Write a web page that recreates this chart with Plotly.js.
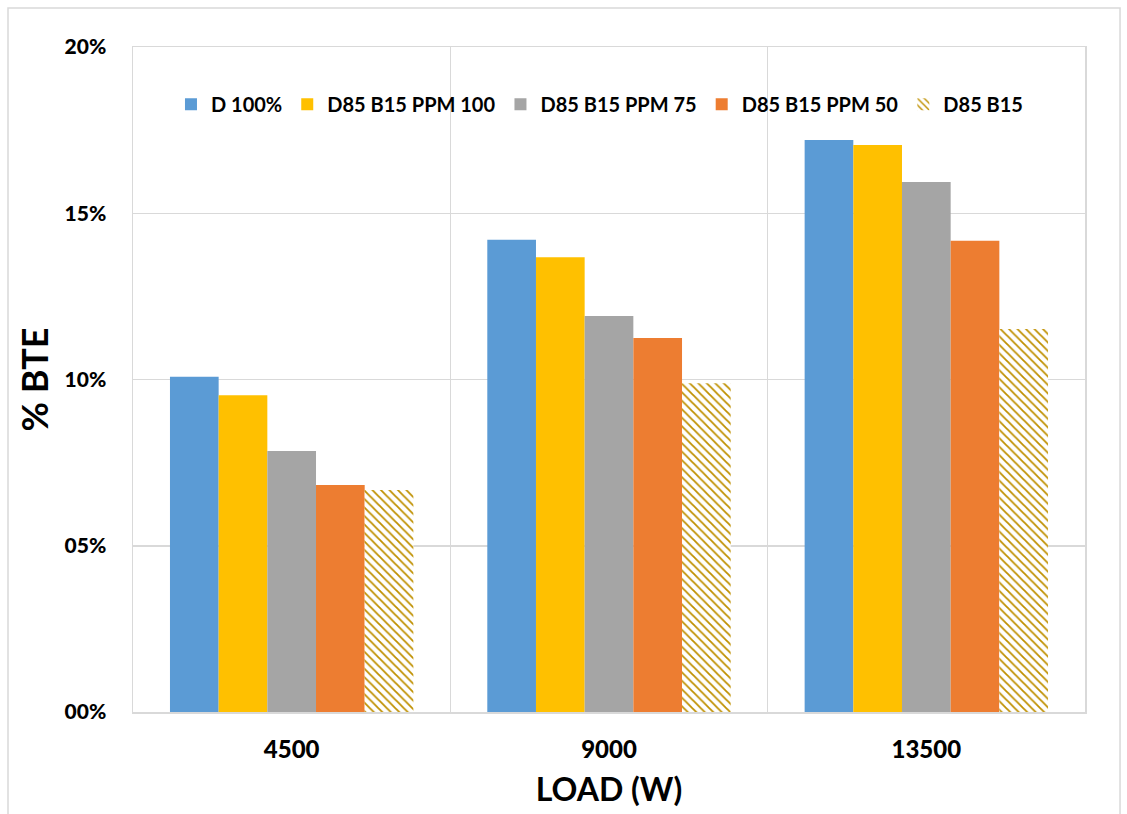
<!DOCTYPE html>
<html>
<head>
<meta charset="utf-8">
<script src="https://cdn.plot.ly/plotly-3.0.1.min.js"></script>
<style>html,body{margin:0;padding:0;background:#fff;}#chart{width:1127px;height:814px;}</style>
</head>
<body>
<div id="chart"></div>
<script>
const categories = ["4500", "9000", "13500"];
const seriesNames = ["D 100%", "D85 B15 PPM 100", "D85 B15 PPM 75", "D85 B15 PPM 50", "D85 B15"];
const d100 = [0.1008, 0.1420, 0.1720];
const ppm100 = [0.0953, 0.1368, 0.1705];
const ppm75 = [0.0785, 0.1191, 0.1594];
const ppm50 = [0.0683, 0.1125, 0.1417];
const d85b15 = [0.0668, 0.0989, 0.1152];
const yTickVals = [0, 0.05, 0.10, 0.15, 0.20];
const yTickText = ["00%", "05%", "10%", "15%", "20%"];

const FONT = "Lato, 'Open Sans', sans-serif";
const colors = ["#5B9BD5", "#FFC000", "#A5A5A5", "#ED7D31"];
const allVals = [d100, ppm100, ppm75, ppm50];

const traces = allVals.map((v, i) => ({
  type: "bar", name: seriesNames[i], x: categories, y: v,
  marker: {color: colors[i], line: {width: 0}}
}));
traces.push({
  type: "bar", name: seriesNames[4], x: categories, y: d85b15,
  marker: {color: "#ffffff", line: {width: 0},
    pattern: {shape: "\\", fgcolor: "#BF9000", bgcolor: "#ffffff", size: 6, solidity: 0.3}}
});

const layout = {
  width: 1127, height: 814,
  margin: {l: 133, r: 42, t: 47, b: 102},
  paper_bgcolor: "#ffffff", plot_bgcolor: "#ffffff",
  barmode: "group", bargap: 0.233, bargroupgap: 0,
  font: {family: FONT, color: "#000"},
  xaxis: {
    type: "category", tickson: "boundaries", showgrid: true, gridcolor: "#d9d9d9", gridwidth: 1.5,
    showline: true, linecolor: "#d9d9d9", linewidth: 1.5, mirror: true, ticks: "",
    ticklabelstandoff: 16,
    tickfont: {family: FONT, size: 24, color: "#000", weight: 900},
    title: {text: "<b>LOAD (W)</b>", font: {family: FONT, size: 32, color: "#000"}, standoff: 16}
  },
  yaxis: {
    range: [0, 0.20], tickmode: "array", tickvals: yTickVals, ticktext: yTickText,
    showgrid: true, gridcolor: "#d9d9d9", gridwidth: 1.5, zeroline: false,
    showline: true, linecolor: "#d9d9d9", linewidth: 1.5, mirror: true, ticks: "",
    ticklabelstandoff: 21,
    tickfont: {family: FONT, size: 21, color: "#000", weight: 900},
    title: {text: "<b>% BTE</b>", font: {family: FONT, size: 36, color: "#000"}, standoff: 5}
  },
  legend: {
    orientation: "h", x: 0.49, xanchor: "center", y: 0.914, yanchor: "middle",
    bgcolor: "rgba(0,0,0,0)", font: {family: FONT, size: 20, color: "#000", weight: 700},
    itemwidth: 30, traceorder: "normal"
  },
  shapes: [{
    type: "rect", xref: "paper", yref: "paper",
    x0: -0.1313, x1: 1.0368, y0: -0.3, y1: 1.0586,
    line: {color: "#d9d9d9", width: 1.5}, fillcolor: "rgba(0,0,0,0)", layer: "below"
  }]
};

Plotly.newPlot("chart", traces, layout, {displayModeBar: false, staticPlot: true});
</script>
</body>
</html>
